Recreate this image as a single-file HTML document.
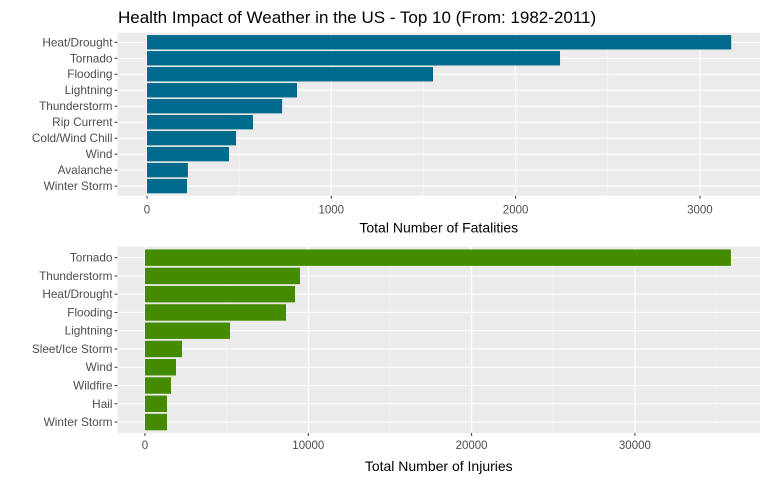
<!DOCTYPE html>
<html><head><meta charset="utf-8"><style>
body{margin:0;background:#fff;font-family:"Liberation Sans",Arial,sans-serif}
svg text{font-family:"Liberation Sans",Arial,sans-serif}
</style></head><body>
<svg id="c" width="768" height="480" xmlns="http://www.w3.org/2000/svg">
<text x="118" y="23" font-size="17" fill="#000">Health Impact of Weather in the US - Top 10 (From: 1982-2011)</text>
</svg>
<script>
const fatalCats=["Heat/Drought","Tornado","Flooding","Lightning","Thunderstorm","Rip Current","Cold/Wind Chill","Wind","Avalanche","Winter Storm"];
const fatalVals=[3170,2241,1552,814,733,575,483,445,222,217];
const fatalTicks=[0,1000,2000,3000];
const injCats=["Tornado","Thunderstorm","Heat/Drought","Flooding","Lightning","Sleet/Ice Storm","Wind","Wildfire","Hail","Winter Storm"];
const injVals=[35880,9490,9185,8634,5205,2266,1898,1592,1347,1347];
const injTicks=[0,10000,20000,30000];
const svg=document.getElementById('c');
const NS='http://www.w3.org/2000/svg';
function mk(t,a,p){const e=document.createElementNS(NS,t);for(const k in a)e.setAttribute(k,a[k]);(p||svg).appendChild(e);return e;}
function panel(name,cats,vals,ticks,top,bottom,x0px,unitPx,color,title,tickOff,titleOff){
  const L=117.5,R=760;
  const g=mk('g',{});
  
  
  const bg=mk('rect',{x:L,y:top,width:R-L,height:bottom-top,fill:'#ebebeb'},g);
  
  
  const xs=v=>x0px+v*unitPx;
  const n=cats.length, band=(bottom-top)/(n+0.2);
  const ys=i=>top+band*(0.6+i);
  for(let i=0;i<ticks.length;i++){
    const m=ticks[i]+(ticks[1]-ticks[0])/2;
    if(xs(m)<R) mk('line',{x1:xs(m),x2:xs(m),y1:top,y2:bottom,stroke:'#f5f5f5','stroke-width':0.6},g);
  }
  ticks.forEach(t=>{
    mk('line',{x1:xs(t),x2:xs(t),y1:top,y2:bottom,stroke:'#fff','stroke-width':1.1},g);
    mk('line',{x1:xs(t),x2:xs(t),y1:bottom,y2:bottom+3,stroke:'#333','stroke-width':1},g);
    const tl=mk('text',{x:xs(t),y:bottom+tickOff,'font-size':11.5,fill:'#4d4d4d','text-anchor':'middle'},g);
    tl.textContent=t;
    
    
  });
  cats.forEach((c,i)=>{
    const y=ys(i);
    mk('line',{x1:L,x2:R,y1:y,y2:y,stroke:'#fff','stroke-width':1.1},g);
    mk('line',{x1:L-3,x2:L,y1:y,y2:y,stroke:'#333','stroke-width':1},g);
    const b=mk('rect',{x:xs(0),y:y-band*0.45,width:xs(vals[i])-xs(0),height:band*0.9,fill:color},g);
    
    
    const tl=mk('text',{x:L-5,y:y+4,'font-size':11.8,fill:'#4d4d4d','text-anchor':'end'},g);
    tl.textContent=c;
    
    
  });
  const at=mk('text',{x:(L+R)/2,y:bottom+titleOff,'font-size':14,fill:'#000','text-anchor':'middle'},g);
  at.textContent=title;
  
  
}
panel('fatalities',fatalCats,fatalVals,fatalTicks,32.7,195.7,147,0.1843,'#006a8c','Total Number of Fatalities',18,37);
panel('injuries',injCats,injVals,injTicks,246.7,433,145,0.01633,'#458b00','Total Number of Injuries',16,38);
</script>
</body></html>
